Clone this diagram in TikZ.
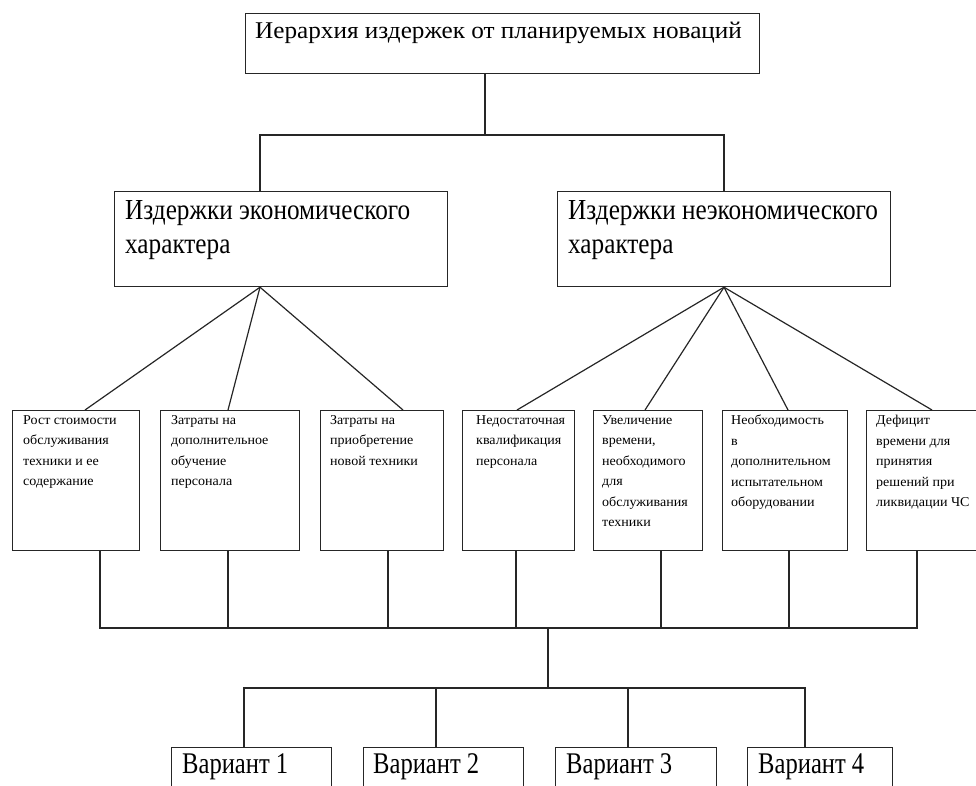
\documentclass[tikz,border=0pt]{standalone}
\usepackage{fontspec}
\setmainfont{Liberation Serif}
\newfontfamily\titlefont[FakeStretch=1.05]{Liberation Serif}
\newfontfamily\midfont[FakeStretch=0.87]{Liberation Serif}
\newfontfamily\smallfont[FakeStretch=1.04]{Liberation Serif}
\newfontfamily\varfont[FakeStretch=0.82]{Liberation Serif}
\begin{document}
\begin{tikzpicture}[x=1pt,y=-1pt,
  ln/.style={line width=1.2pt, draw=black!85},
  box/.style={draw=black!85, line width=1.2pt, rectangle, inner sep=0pt, anchor=north west},
  titletxt/.style={anchor=base west, inner sep=0pt, font=\titlefont\fontsize{24}{28}\selectfont},
  midtxt/.style={anchor=north west, inner sep=0pt, align=left, font=\midfont\fontsize{29}{34}\selectfont},
  smalltxt/.style={anchor=north west, inner sep=0pt, align=left, font=\smallfont\fontsize{13.5}{20.5}\selectfont},
  vartxt/.style={anchor=base west, inner sep=0pt, font=\varfont\fontsize{30}{34}\selectfont}]
\useasboundingbox (0,0) rectangle (976,785);
\clip (0,0) rectangle (976,785);
% boxes
\node[box, minimum width=514pt, minimum height=60pt] (top) at (245,13) {};
\node[box, minimum width=333pt, minimum height=95pt] (midL) at (114,191) {};
\node[box, minimum width=333pt, minimum height=95pt] (midR) at (557,191) {};
\node[box, minimum width=127pt, minimum height=140pt] (s1) at (12,410) {};
\node[box, minimum width=139pt, minimum height=140pt] (s2) at (160,410) {};
\node[box, minimum width=123pt, minimum height=140pt] (s3) at (320,410) {};
\node[box, minimum width=112pt, minimum height=140pt] (s4) at (462,410) {};
\node[box, minimum width=109pt, minimum height=140pt] (s5) at (593,410) {};
\node[box, minimum width=125pt, minimum height=140pt] (s6) at (722,410) {};
\node[box, minimum width=124pt, minimum height=140pt] (s7) at (866,410) {};
\node[box, minimum width=160pt, minimum height=60pt] (v1) at (171,747) {};
\node[box, minimum width=160pt, minimum height=60pt] (v2) at (363,747) {};
\node[box, minimum width=161pt, minimum height=60pt] (v3) at (555,747) {};
\node[box, minimum width=145pt, minimum height=60pt] (v4) at (747,747) {};
% texts
\node[titletxt] (ttop) at (255,38) {Иерархия издержек от планируемых новаций};
\node[midtxt] (tmidL) at (125,200) {Издержки экономического\\характера};
\node[midtxt] (tmidR) at (568,200) {Издержки неэкономического\\характера};
\node[smalltxt] (ts1) at (23,415) {Рост стоимости\\обслуживания\\техники и ее\\содержание};
\node[smalltxt] (ts2) at (171,415) {Затраты на\\дополнительное\\обучение\\персонала};
\node[smalltxt] (ts3) at (330,415) {Затраты на\\приобретение\\новой техники};
\node[smalltxt] (ts4) at (476,415) {Недостаточная\\квалификация\\персонала};
\node[smalltxt] (ts5) at (602,415) {Увеличение\\времени,\\необходимого\\для\\обслуживания\\техники};
\node[smalltxt] (ts6) at (731,415) {Необходимость\\в\\дополнительном\\испытательном\\оборудовании};
\node[smalltxt] (ts7) at (876,415) {Дефицит\\времени для\\принятия\\решений при\\ликвидации ЧС};
\node[vartxt] (tv1) at (182,773) {Вариант 1};
\node[vartxt] (tv2) at (373,773) {Вариант 2};
\node[vartxt] (tv3) at (566,773) {Вариант 3};
\node[vartxt] (tv4) at (758,773) {Вариант 4};
% junction coordinates
\coordinate (j0) at (485,135);
\coordinate (jL) at (260,135);
\coordinate (jR) at (724,135);
\coordinate (b1) at (100,628);
\coordinate (bC) at (548,628);
\coordinate (b7) at (917,628);
\coordinate (c0) at (548,688);
\coordinate (c1) at (244,688);
\coordinate (c4) at (805,688);
% connectors top
\draw[ln] (top.south -| j0) -- (j0);
\draw[ln] (midL.north -| jL) -- (jL) -- (jR) -- (midR.north -| jR);
% fans
\draw[ln] (jL |- midL.south) -- (85,0 |- s1.north);
\draw[ln] (jL |- midL.south) -- (228,0 |- s2.north);
\draw[ln] (jL |- midL.south) -- (403,0 |- s3.north);
\draw[ln] (jR |- midR.south) -- (517,0 |- s4.north);
\draw[ln] (jR |- midR.south) -- (645,0 |- s5.north);
\draw[ln] (jR |- midR.south) -- (788,0 |- s6.north);
\draw[ln] (jR |- midR.south) -- (932,0 |- s7.north);
% bottom bus
\draw[ln] (b1 |- s1.south) -- (b1) -- (b7) -- (b7 |- s7.south);
\draw[ln] (228,0 |- s2.south) -- (228,0 |- b1);
\draw[ln] (388,0 |- s3.south) -- (388,0 |- b1);
\draw[ln] (516,0 |- s4.south) -- (516,0 |- b1);
\draw[ln] (661,0 |- s5.south) -- (661,0 |- b1);
\draw[ln] (789,0 |- s6.south) -- (789,0 |- b1);
\draw[ln] (bC) -- (c0);
\draw[ln] (c1 |- v1.north) -- (c1) -- (c4) -- (c4 |- v4.north);
\draw[ln] (436,0 |- v2.north) -- (436,0 |- c0);
\draw[ln] (628,0 |- v3.north) -- (628,0 |- c0);
\end{tikzpicture}
\end{document}
